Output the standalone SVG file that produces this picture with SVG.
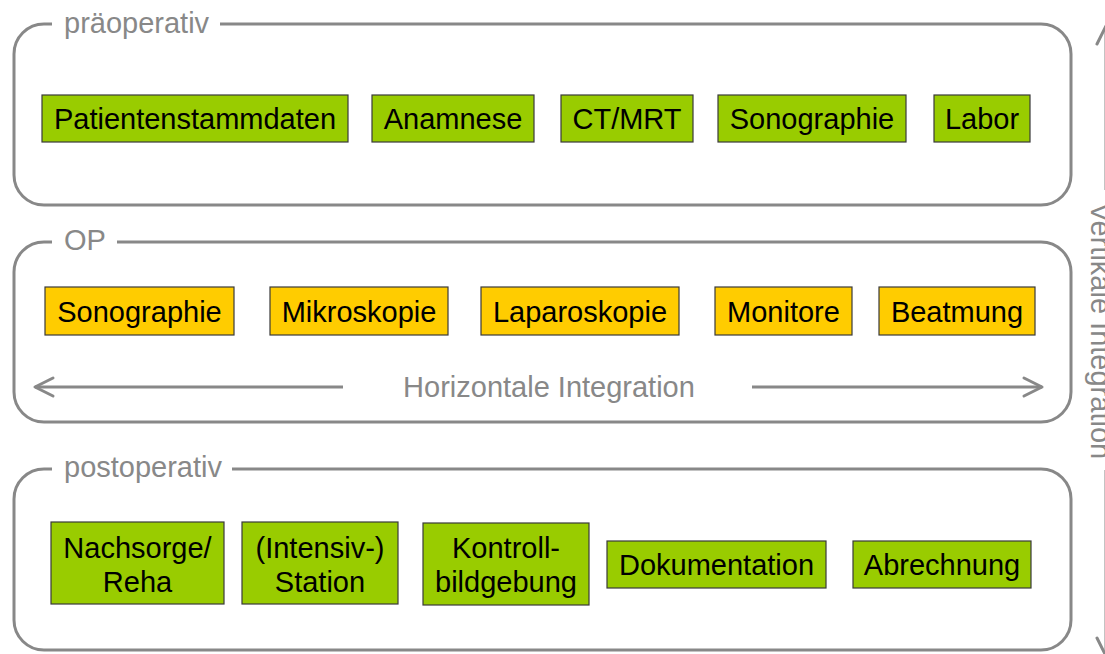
<svg xmlns="http://www.w3.org/2000/svg" width="1105" height="654" viewBox="0 0 1105 654">
<style>
  .grp { fill: none; stroke: #888888; stroke-width: 3; }
  .gtitle { font-family: "Liberation Sans", Arial, sans-serif; font-size: 29px; fill: #888888; }
  .green { fill: #99CC00; stroke: #3a3a3a; stroke-width: 1.2; }
  .yellow { fill: #FFCC00; stroke: #3a3a3a; stroke-width: 1.2; }
  .lbl { font-family: "Liberation Sans", Arial, sans-serif; font-size: 29px; fill: #000000; text-anchor: middle; }
  .conn { fill: none; stroke: #888888; stroke-width: 3; }
  .axis { font-family: "Liberation Sans", Arial, sans-serif; font-size: 29px; fill: #888888; text-anchor: middle; }
</style>
<defs>
  <marker id="chev" markerUnits="userSpaceOnUse" markerWidth="24" markerHeight="24" viewBox="-22 -12 24 24" refX="0" refY="0" orient="auto" style="overflow:visible">
    <path d="M-18,-9 L0,0 L-18,9" fill="none" stroke="#888888" stroke-width="3" stroke-linejoin="round" stroke-linecap="round"/>
  </marker>
</defs>

<g id="group-praeoperativ">
  <path class="grp" d="M220,24 H1041 A30,30 0 0 1 1071,54 V175 A30,30 0 0 1 1041,205 H44 A30,30 0 0 1 14,175 V54 A30,30 0 0 1 44,24 H52"/>
  <text class="gtitle" x="64" y="33">präoperativ</text>
</g>
<g id="group-op">
  <path class="grp" d="M117,242 H1041 A30,30 0 0 1 1071,272 V392 A30,30 0 0 1 1041,422 H44 A30,30 0 0 1 14,392 V272 A30,30 0 0 1 44,242 H52"/>
  <text class="gtitle" x="64" y="250">OP</text>
</g>
<g id="group-postoperativ">
  <path class="grp" d="M232,469 H1041 A30,30 0 0 1 1071,499 V620 A30,30 0 0 1 1041,650 H44 A30,30 0 0 1 14,620 V499 A30,30 0 0 1 44,469 H52"/>
  <text class="gtitle" x="64" y="477">postoperativ</text>
</g>

<g id="n-patientenstammdaten"><rect class="green" x="42" y="95" width="306" height="47"/><text class="lbl" x="195" y="129">Patientenstammdaten</text></g>
<g id="n-anamnese"><rect class="green" x="372" y="95" width="162" height="47"/><text class="lbl" x="453" y="129">Anamnese</text></g>
<g id="n-ctmrt"><rect class="green" x="561" y="95" width="132" height="47"/><text class="lbl" x="627" y="129">CT/MRT</text></g>
<g id="n-sonographie-pre"><rect class="green" x="718" y="95" width="188" height="47"/><text class="lbl" x="812" y="129">Sonographie</text></g>
<g id="n-labor"><rect class="green" x="934" y="95" width="96" height="47"/><text class="lbl" x="982" y="129">Labor</text></g>

<g id="n-sonographie-op"><rect class="yellow" x="45" y="287" width="189" height="48"/><text class="lbl" x="139.5" y="322">Sonographie</text></g>
<g id="n-mikroskopie"><rect class="yellow" x="270" y="287" width="178" height="48"/><text class="lbl" x="359" y="322">Mikroskopie</text></g>
<g id="n-laparoskopie"><rect class="yellow" x="481" y="287" width="198" height="48"/><text class="lbl" x="580" y="322">Laparoskopie</text></g>
<g id="n-monitore"><rect class="yellow" x="715" y="287" width="137" height="48"/><text class="lbl" x="783.5" y="322">Monitore</text></g>
<g id="n-beatmung"><rect class="yellow" x="879" y="287" width="156" height="48"/><text class="lbl" x="957" y="322">Beatmung</text></g>

<g id="n-nachsorge"><rect class="green" x="51" y="522" width="173" height="82"/><text class="lbl" x="137.5" y="558">Nachsorge/</text><text class="lbl" x="137.5" y="592">Reha</text></g>
<g id="n-station"><rect class="green" x="242" y="522" width="156" height="82"/><text class="lbl" x="320" y="558">(Intensiv-)</text><text class="lbl" x="320" y="592">Station</text></g>
<g id="n-kontroll"><rect class="green" x="423" y="523" width="166" height="82"/><text class="lbl" x="506" y="558">Kontroll-</text><text class="lbl" x="506" y="592">bildgebung</text></g>
<g id="n-dokumentation"><rect class="green" x="607" y="541" width="219" height="47"/><text class="lbl" x="716.5" y="575">Dokumentation</text></g>
<g id="n-abrechnung"><rect class="green" x="853" y="541" width="178" height="47"/><text class="lbl" x="942" y="575">Abrechnung</text></g>

<g id="connectors">
  <line class="conn" x1="343" y1="387" x2="35" y2="387" marker-end="url(#chev)"/>
  <line class="conn" x1="752" y1="387" x2="1042" y2="387" marker-end="url(#chev)"/>
  <line class="conn" x1="1106" y1="190" x2="1106" y2="26" marker-end="url(#chev)"/>
  <line class="conn" x1="1106" y1="470" x2="1106" y2="656" marker-end="url(#chev)"/>
  <text class="axis" x="549" y="397">Horizontale Integration</text>
  <text class="axis" x="1091" y="331" transform="rotate(90 1091 331)">Vertikale Integration</text>
</g>
</svg>
